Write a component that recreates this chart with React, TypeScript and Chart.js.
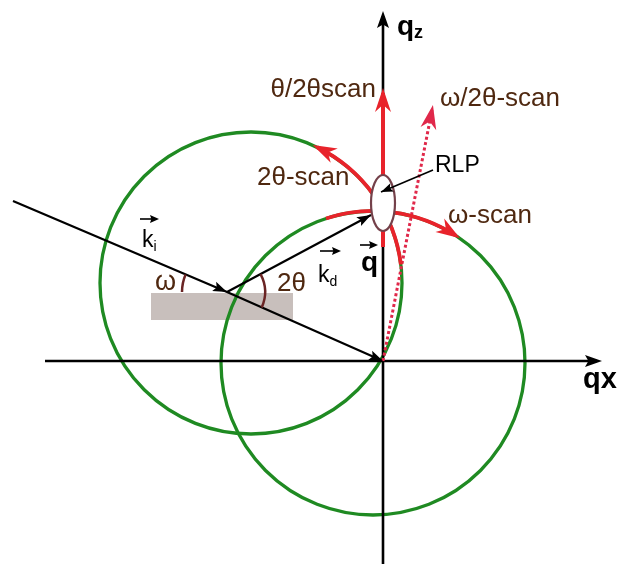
import React, { useEffect, useRef } from "react";
import { Chart, registerables } from "chart.js";

Chart.register(...registerables);

// ---------- data (diagram units: reciprocal-space origin at 0,0, qz up) ----------
const qxAxis = [{ x: -338, y: 0 }, { x: 214, y: 0 }];
const qzAxis = [{ x: 0, y: -203 }, { x: 0, y: 345 }];
const incidentBeam = [{ x: -370, y: 160 }, { x: -156, y: 69 }, { x: 0, y: 0 }];
const diffractedBeam = [{ x: -156, y: 69 }, { x: -12, y: 146 }];
const thetaTwoThetaScan = [{ x: 0, y: 114 }, { x: 0, y: 268 }];
const omegaTwoThetaScan = [{ x: 0, y: 0 }, { x: 49, y: 251 }];
const rlpPointer = [{ x: 50, y: 191 }, { x: -2, y: 169 }];
const sampleCorners = [{ x: -232, y: 68 }, { x: -90, y: 41 }];
const circleCenters = [{ x: -132, y: 78 }, { x: -10, y: -2 }];
const circleRadii = [151, 152];
const scanArcCircle = [0, 1];
const scanArcFrom = [7, 108];
const scanArcTo = [64, 57];
const rlpCenter = { x: 0, y: 158 };
const rlpRadii = [12, 28];
const angleArcCenter = { x: -156, y: 69 };
const angleArcRadii = [45, 38];
const angleArcFrom = [180, -24];
const angleArcTo = [157, 28];

const BROWN = "#4f2810";
const MAROON = "#6a2424";
const RED = "#e8232b";
const DOT_RED = "#e0284a";
const GREEN = "#1f8a22";
const FONT = '"Liberation Sans", Arial, sans-serif';
const D = Math.PI / 180;

function arrowHead(ctx: CanvasRenderingContext2D, tx: number, ty: number, ang: number, len: number, half: number, color: string, notch = 0.25) {
  ctx.save();
  ctx.translate(tx, ty);
  ctx.rotate(ang);
  ctx.beginPath();
  ctx.moveTo(0, 0);
  ctx.lineTo(-len, -half);
  ctx.lineTo(-len * (1 - notch), 0);
  ctx.lineTo(-len, half);
  ctx.closePath();
  ctx.fillStyle = color;
  ctx.fill();
  ctx.restore();
}

const diagramPlugin = {
  id: "diagram",
  beforeDatasetsDraw(chart: any) {
    const ctx: CanvasRenderingContext2D = chart.ctx;
    const X = (v: number) => chart.scales.x.getPixelForValue(v);
    const Y = (v: number) => chart.scales.y.getPixelForValue(v);
    const unit = X(1) - X(0);
    ctx.save();
    const [a, b] = sampleCorners;
    ctx.fillStyle = "#c8bfbc";
    ctx.fillRect(X(a.x), Y(a.y), X(b.x) - X(a.x), Y(b.y) - Y(a.y));
    ctx.strokeStyle = GREEN;
    ctx.lineWidth = 3.3;
    circleCenters.forEach((c, i) => {
      ctx.beginPath();
      ctx.arc(X(c.x), Y(c.y), circleRadii[i] * unit, 0, Math.PI * 2);
      ctx.stroke();
    });
    ctx.restore();
  },
  afterDatasetsDraw(chart: any) {
    const ctx: CanvasRenderingContext2D = chart.ctx;
    const X = (v: number) => chart.scales.x.getPixelForValue(v);
    const Y = (v: number) => chart.scales.y.getPixelForValue(v);
    const unit = X(1) - X(0);
    const dirOf = (p: any, q: any) => Math.atan2(Y(q.y) - Y(p.y), X(q.x) - X(p.x));
    ctx.save();

    // red scan arcs on the circles
    ctx.strokeStyle = RED;
    ctx.lineWidth = 3.8;
    scanArcCircle.forEach((ci, i) => {
      const c = circleCenters[ci];
      const r = circleRadii[ci] * unit;
      const f = scanArcFrom[i] * D;
      const t = scanArcTo[i] * D;
      const ccw = t > f;
      ctx.beginPath();
      ctx.arc(X(c.x), Y(c.y), r, -f, -t, ccw);
      ctx.stroke();
      const ex = X(c.x) + r * Math.cos(t);
      const ey = Y(c.y) - r * Math.sin(t);
      const dir = ccw ? Math.atan2(-Math.cos(t), -Math.sin(t)) : Math.atan2(Math.cos(t), Math.sin(t));
      arrowHead(ctx, ex + 5 * Math.cos(dir), ey + 5 * Math.sin(dir), dir, 24, 8, RED, 0.3);
    });

    // arrow heads of straight lines
    const qxEnd = qxAxis[1];
    arrowHead(ctx, X(qxEnd.x) + 5, Y(qxEnd.y), 0, 17, 6, "#000", 0.2);
    const qzEnd = qzAxis[1];
    arrowHead(ctx, X(qzEnd.x), Y(qzEnd.y) - 5, -Math.PI / 2, 17, 6, "#000", 0.2);
    const tEnd = thetaTwoThetaScan[1];
    arrowHead(ctx, X(tEnd.x), Y(tEnd.y) - 5, -Math.PI / 2, 24, 8, RED, 0.3);
    const oDir = dirOf(omegaTwoThetaScan[0], omegaTwoThetaScan[1]);
    const oEnd = omegaTwoThetaScan[1];
    arrowHead(ctx, X(oEnd.x) + 5 * Math.cos(oDir), Y(oEnd.y) + 5 * Math.sin(oDir), oDir, 24, 8, DOT_RED, 0.3);
    const beamDir = dirOf(incidentBeam[0], incidentBeam[2]);
    arrowHead(ctx, X(incidentBeam[1].x), Y(incidentBeam[1].y), beamDir, 14, 5, "#000", 0.2);
    arrowHead(ctx, X(incidentBeam[2].x), Y(incidentBeam[2].y), beamDir, 14, 5, "#000", 0.2);
    const kdDir = dirOf(diffractedBeam[0], diffractedBeam[1]);
    arrowHead(ctx, X(diffractedBeam[1].x), Y(diffractedBeam[1].y), kdDir, 14, 5, "#000", 0.2);

    // angle arcs
    ctx.strokeStyle = MAROON;
    ctx.lineWidth = 2.5;
    angleArcRadii.forEach((r, i) => {
      const f = angleArcFrom[i] * D;
      const t = angleArcTo[i] * D;
      ctx.beginPath();
      ctx.arc(X(angleArcCenter.x), Y(angleArcCenter.y), r * unit, -f, -t, t > f);
      ctx.stroke();
    });

    // reciprocal lattice point
    ctx.beginPath();
    ctx.ellipse(X(rlpCenter.x), Y(rlpCenter.y), rlpRadii[0] * unit, rlpRadii[1] * unit, 0, 0, Math.PI * 2);
    ctx.fillStyle = "#fff";
    ctx.fill();
    ctx.strokeStyle = "#74414a";
    ctx.lineWidth = 2.2;
    ctx.stroke();

    // RLP pointer
    const [p0, p1] = rlpPointer;
    ctx.strokeStyle = "#000";
    ctx.lineWidth = 1.6;
    ctx.beginPath();
    ctx.moveTo(X(p0.x), Y(p0.y));
    ctx.lineTo(X(p1.x), Y(p1.y));
    ctx.stroke();
    arrowHead(ctx, X(p1.x), Y(p1.y), dirOf(p0, p1), 12, 4.5, "#000", 0.2);

    // labels
    const text = (s: string, x: number, y: number, font: string, color: string, align: CanvasTextAlign = "left") => {
      ctx.font = font;
      ctx.fillStyle = color;
      ctx.textAlign = align;
      ctx.textBaseline = "alphabetic";
      ctx.fillText(s, X(x), Y(y));
      return ctx.measureText(s).width;
    };
    const reg = (px: number) => `${px}px ${FONT}`;
    const bold = (px: number) => `bold ${px}px ${FONT}`;
    text("θ/2θscan", -7, 264, reg(26), BROWN, "right");
    text("ω/2θ-scan", 57, 255, reg(26), BROWN);
    text("2θ-scan", -126, 176, reg(26), BROWN);
    text("ω-scan", 65, 138, reg(26), BROWN);
    text("ω", -228, 71, reg(27), BROWN);
    text("2θ", -106, 70, reg(26), BROWN);
    text("RLP", 52, 189, reg(23), "#000");

    const vecArrow = (x1: number, x2: number, y: number) => {
      ctx.strokeStyle = "#000";
      ctx.lineWidth = 1.6;
      ctx.beginPath();
      ctx.moveTo(X(x1), Y(y));
      ctx.lineTo(X(x2) - 4, Y(y));
      ctx.stroke();
      arrowHead(ctx, X(x2), Y(y), 0, 9, 4, "#000", 0.15);
    };
    // k_i
    let w = text("k", -241, 114, reg(23), "#000");
    text("i", -241 + w / unit, 110, reg(14), "#000");
    vecArrow(-243, -224, 142);
    // k_d
    w = text("k", -65, 79, reg(23), "#000");
    text("d", -65 + w / unit, 75, reg(14), "#000");
    vecArrow(-63, -42, 110);
    // q
    text("q", -22, 90, bold(28), "#000");
    vecArrow(-23, -5, 116);
    // q_z
    w = text("q", 14, 326, bold(28), "#000");
    text("z", 14 + w / unit, 323, bold(18), "#000");
    // q_x
    text("qx", 200, -27, bold(29), "#000");

    ctx.restore();
  },
};

export default function App() {
  const ref = useRef<HTMLCanvasElement>(null);
  useEffect(() => {
    const line = (data: any[], color: string, width: number, order: number, dash: number[] = []) => ({
      data,
      showLine: true,
      borderColor: color,
      backgroundColor: color,
      borderWidth: width,
      borderDash: dash,
      borderCapStyle: "butt",
      pointRadius: 0,
      tension: 0,
      order,
    });
    const chart = new Chart(ref.current as HTMLCanvasElement, {
      type: "scatter",
      data: {
        datasets: [
          line(qxAxis, "#000", 2.6, 6),
          line(qzAxis, "#000", 2.6, 6),
          line(incidentBeam, "#000", 2.2, 4),
          line(diffractedBeam, "#000", 2.2, 4),
          line(thetaTwoThetaScan, RED, 4, 2),
          line(omegaTwoThetaScan, DOT_RED, 3, 1, [3, 2.5]),
        ] as any,
      },
      options: {
        animation: false,
        responsive: false,
        events: [],
        layout: { padding: 0 },
        plugins: { legend: { display: false }, tooltip: { enabled: false } },
        scales: {
          x: { type: "linear", min: -383, max: 234, display: false },
          y: { type: "linear", min: -203, max: 361, display: false },
        },
      },
      plugins: [diagramPlugin],
    });
    return () => chart.destroy();
  }, []);
  return (
    <div style={{ position: "fixed", left: 0, top: 0, width: 617, height: 564, background: "#fff" }}>
      <canvas ref={ref} width={617} height={564} style={{ display: "block" }} />
    </div>
  );
}
